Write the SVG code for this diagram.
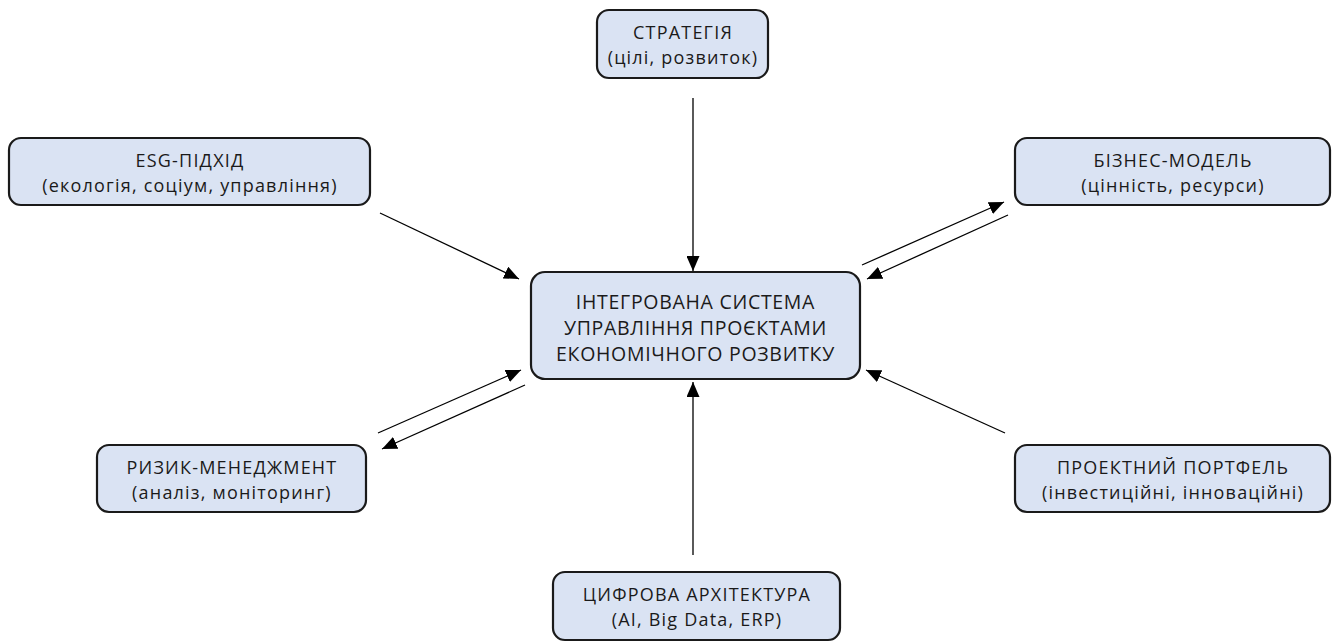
<svg xmlns="http://www.w3.org/2000/svg" width="1340" height="642" viewBox="0 0 1340 642">
<style>
.box{fill:#dae3f3;stroke:#1a1a1a;stroke-width:2.2}
.t{font-family:"Open Sans","Noto Sans","DejaVu Sans",sans-serif;font-size:18px;fill:#1a1a1a;text-anchor:middle;letter-spacing:1.2px}
.c{font-size:19.5px;letter-spacing:0.7px}
.ln{stroke:#000;stroke-width:1.3;fill:none;marker-end:url(#ah)}
</style>
<defs>
<marker id="ah" markerWidth="15" markerHeight="13" refX="15" refY="6.5" orient="auto" markerUnits="userSpaceOnUse" viewBox="0 0 15 13">
<path d="M0,0 L15,6.5 L0,13 Z" fill="#000"/>
</marker>
</defs>
<rect width="1340" height="642" fill="#fff"/>
<g id="connectors">
<line class="ln" x1="693" y1="98" x2="693" y2="271"/>
<line class="ln" x1="380" y1="213" x2="519" y2="279"/>
<line class="ln" x1="862" y1="265" x2="1004" y2="202"/>
<line class="ln" x1="1008" y1="215" x2="867" y2="279"/>
<line class="ln" x1="378" y1="433" x2="521" y2="370"/>
<line class="ln" x1="525" y1="385" x2="382" y2="449"/>
<line class="ln" x1="1005" y1="433" x2="866" y2="370"/>
<line class="ln" x1="693" y1="555" x2="693" y2="382"/>
</g>
<g id="center">
<rect class="box" x="531" y="272" width="329" height="107" rx="14"/>
<text class="t c" x="695.5" y="309">ІНТЕГРОВАНА СИСТЕМА</text>
<text class="t c" x="695.5" y="335">УПРАВЛІННЯ ПРОЄКТАМИ</text>
<text class="t c" x="695.5" y="361">ЕКОНОМІЧНОГО РОЗВИТКУ</text>
</g>
<g id="strategy">
<rect class="box" x="597" y="10" width="171" height="68" rx="12"/>
<text class="t" x="683" y="39">СТРАТЕГІЯ</text>
<text class="t" x="683" y="64">(цілі, розвиток)</text>
</g>
<g id="esg">
<rect class="box" x="9" y="138" width="361" height="67" rx="12"/>
<text class="t" x="190" y="167">ESG-ПІДХІД</text>
<text class="t" x="190" y="192">(екологія, соціум, управління)</text>
</g>
<g id="business">
<rect class="box" x="1015" y="138" width="315" height="67" rx="12"/>
<text class="t" x="1173" y="167">БІЗНЕС-МОДЕЛЬ</text>
<text class="t" x="1173" y="192">(цінність, ресурси)</text>
</g>
<g id="risk">
<rect class="box" x="97" y="445" width="269" height="67" rx="12"/>
<text class="t" x="232" y="474">РИЗИК-МЕНЕДЖМЕНТ</text>
<text class="t" x="232" y="499">(аналіз, моніторинг)</text>
</g>
<g id="portfolio">
<rect class="box" x="1015" y="445" width="315" height="67" rx="12"/>
<text class="t" x="1173" y="474">ПРОЕКТНИЙ ПОРТФЕЛЬ</text>
<text class="t" x="1173" y="499">(інвестиційні, інноваційні)</text>
</g>
<g id="digital">
<rect class="box" x="553" y="572" width="287" height="68" rx="12"/>
<text class="t" x="697" y="601">ЦИФРОВА АРХІТЕКТУРА</text>
<text class="t" x="697" y="626">(AI, Big Data, ERP)</text>
</g>
</svg>
